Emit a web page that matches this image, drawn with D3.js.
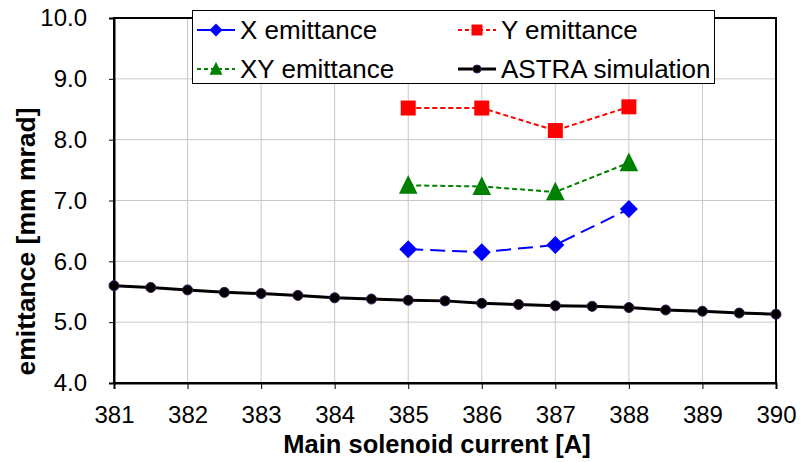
<!DOCTYPE html>
<html>
<head>
<meta charset="utf-8">
<script src="https://cdn.jsdelivr.net/npm/d3@7"></script>
<style>
  html, body { margin: 0; padding: 0; background: #fff; }
  svg { display: block; font-family: "Liberation Sans", Arial, sans-serif; }
</style>
</head>
<body>
<svg id="chart" width="807" height="462"></svg>
<script>
// Measured currents and emittances
const measCurrent = [385, 386, 387, 388];
const xEmit  = [6.20, 6.15, 6.27, 6.86];
const yEmit  = [8.52, 8.52, 8.15, 8.54];
const xyEmit = [7.25, 7.23, 7.14, 7.62];

// ASTRA simulation scan
const simCurrent = [381, 381.5, 382, 382.5, 383, 383.5, 384, 384.5, 385, 385.5,
                    386, 386.5, 387, 387.5, 388, 388.5, 389, 389.5, 390];
const simEmit = [5.60, 5.57, 5.53, 5.49, 5.47, 5.44, 5.40, 5.38, 5.36, 5.35,
                 5.31, 5.29, 5.27, 5.26, 5.24, 5.20, 5.18, 5.15, 5.13];

const xTicks = [381, 382, 383, 384, 385, 386, 387, 388, 389, 390];
const yTicks = [4, 5, 6, 7, 8, 9, 10];

const svg = d3.select("#chart");
const plotL = 114, plotR = 776, plotT = 18, plotB = 383;

const x = d3.scaleLinear().domain([381, 390]).range([plotL, plotR]);
const y = d3.scaleLinear().domain([4, 10]).range([plotB, plotT]);

// grid
const grid = svg.append("g");
grid.selectAll("line.v").data(xTicks).join("line").attr("class", "v")
  .attr("x1", d => x(d)).attr("x2", d => x(d))
  .attr("y1", plotT).attr("y2", plotB)
  .attr("stroke", "#c8c8c8").attr("stroke-width", 1);
grid.selectAll("line.h").data(yTicks).join("line").attr("class", "h")
  .attr("y1", d => y(d)).attr("y2", d => y(d))
  .attr("x1", plotL).attr("x2", plotR)
  .attr("stroke", "#c8c8c8").attr("stroke-width", 1);

// frame
svg.append("rect").attr("x", plotL).attr("y", plotT)
  .attr("width", plotR - plotL).attr("height", plotB - plotT)
  .attr("fill", "none").attr("stroke", "#000").attr("stroke-width", 2);

// axes
const xAxis = svg.append("g").attr("transform", `translate(0,${plotB})`)
  .call(d3.axisBottom(x).tickValues(xTicks).tickFormat(d3.format("d"))
    .tickSizeOuter(0).tickSize(6).tickPadding(17));
const yAxis = svg.append("g").attr("transform", `translate(${plotL},0)`)
  .call(d3.axisLeft(y).tickValues(yTicks).tickFormat(d3.format(".1f"))
    .tickSizeOuter(0).tickSize(5).tickPadding(22));
[xAxis, yAxis].forEach(a => {
  a.select(".domain").attr("stroke", "#000").attr("stroke-width", 2);
  a.selectAll(".tick line").attr("stroke", "#000").attr("stroke-width", 1);
  a.selectAll(".tick text").attr("fill", "#000")
    .style("font-family", "'Liberation Sans', Arial, sans-serif").style("font-size", "24px");
});

// axis titles
svg.append("text").attr("x", 437).attr("y", 453)
  .attr("text-anchor", "middle").attr("font-weight", "bold").attr("font-size", "25.5px")
  .text("Main solenoid current [A]");
svg.append("text").attr("transform", "translate(35,241.5) rotate(-90)")
  .attr("text-anchor", "middle").attr("font-weight", "bold").attr("font-size", "26.5px")
  .text("emittance [mm mrad]");

const line = d3.line().x(d => x(d[0])).y(d => y(d[1]));

// marker shapes (centred on the data point)
const shapes = {
  diamond: r => `M0,${-r}L${r},0L0,${r}L${-r},0Z`,
  square: r => `M${-r},${-r}H${r}V${r}H${-r}Z`,
  triangle: r => `M0,${-r * 1.1}L${r},${r * 0.9}L${-r},${r * 0.9}Z`
};

// ASTRA simulation
const simPts = simCurrent.map((c, i) => [c, simEmit[i]]);
svg.append("path").attr("d", line(simPts)).attr("fill", "none")
  .attr("stroke", "#000").attr("stroke-width", 3);
svg.selectAll("circle.sim").data(simPts).join("circle").attr("class", "sim")
  .attr("cx", d => x(d[0])).attr("cy", d => y(d[1])).attr("r", 5)
  .attr("fill", "#000").attr("stroke", "#3b1a5a").attr("stroke-width", 1);

const series = [
  { label: "X emittance",  vals: xEmit,  color: "#0000ff", dash: "15,7", shape: "diamond",  r: 9,   lr: 6.5 },
  { label: "Y emittance",  vals: yEmit,  color: "#ff0000", dash: "5,3",  shape: "square",   r: 7.5, lr: 5.5 },
  { label: "XY emittance", vals: xyEmit, color: "#008000", dash: "5,3",  shape: "triangle", r: 9.3, lr: 6.5 }
];
series.forEach(s => {
  const pts = measCurrent.map((c, i) => [c, s.vals[i]]);
  svg.append("path").attr("d", line(pts)).attr("fill", "none")
    .attr("stroke", s.color).attr("stroke-width", 2).attr("stroke-dasharray", s.dash);
  svg.append("g").selectAll("path").data(pts).join("path")
    .attr("d", shapes[s.shape](s.r))
    .attr("transform", d => `translate(${x(d[0])},${y(d[1])})`)
    .attr("fill", s.color);
});

// legend
const lg = svg.append("g");
lg.append("rect").attr("x", 192.5).attr("y", 10.5).attr("width", 522).attr("height", 73)
  .attr("fill", "#fff").attr("stroke", "#000").attr("stroke-width", 1);
const legendPos = [[197, 30], [458, 30], [197, 69], [458, 69]];
const legendItems = [
  { ...series[0], ldash: null },
  { ...series[1], ldash: "4,3" },
  { ...series[2], ldash: "4,3" },
  { label: "ASTRA simulation", color: "#000", ldash: null, shape: "circle", lr: 4 }
];
const clip = lg.append("clipPath").attr("id", "legclip")
  .append("rect").attr("x", 193).attr("y", 11).attr("width", 521).attr("height", 72);
legendItems.forEach((it, i) => {
  const [lx, ly] = legendPos[i];
  const isAstra = it.shape === "circle";
  lg.append("line").attr("x1", lx).attr("x2", lx + 38)
    .attr("y1", ly).attr("y2", ly)
    .attr("stroke", it.color).attr("stroke-width", isAstra ? 3 : 2)
    .attr("stroke-dasharray", it.ldash);
  if (isAstra) {
    lg.append("circle").attr("cx", lx + 19).attr("cy", ly).attr("r", it.lr)
      .attr("fill", "#000").attr("stroke", "#3b1a5a").attr("stroke-width", 1);
  } else {
    lg.append("path").attr("d", shapes[it.shape](it.lr))
      .attr("transform", `translate(${lx + 19},${ly})`).attr("fill", it.color);
  }
  lg.append("text").attr("x", lx + 43).attr("y", ly + 8.5)
    .attr("clip-path", "url(#legclip)")
    .attr("font-size", "26px").text(it.label);
});
</script>
</body>
</html>
